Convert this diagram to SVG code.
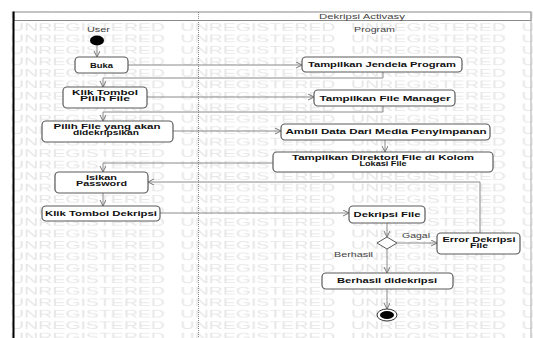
<svg xmlns="http://www.w3.org/2000/svg" width="533" height="338" viewBox="0 0 533 338">
<style>
.wm{font-family:"Liberation Sans",Arial,sans-serif;font-size:11px;fill:#e6e6e6}
.box{fill:#fff;stroke:#5a5a5a;stroke-width:1.2}
.t{font-family:"Liberation Sans",Arial,sans-serif;font-size:7px;font-weight:bold;fill:#111;text-anchor:middle}
.l{font-family:"Liberation Sans",Arial,sans-serif;font-size:7px;fill:#444;text-anchor:middle}
.c{fill:none;stroke:#8a8a8a;stroke-width:1}
</style>
<defs>
<marker id="ah" markerWidth="7" markerHeight="7" refX="6" refY="3" orient="auto" markerUnits="userSpaceOnUse">
<path d="M0,0 L6,3 L0,6" fill="none" stroke="#777" stroke-width="1"/>
</marker>
<pattern id="wmp" patternUnits="userSpaceOnUse" x="10" y="21.2" width="170.5" height="11.47">
<text class="wm" x="0" y="10" textLength="155" lengthAdjust="spacingAndGlyphs">UNREGISTERED</text>
</pattern>
</defs>
<rect width="533" height="338" fill="#fff"/>
<rect x="0" y="9.7" width="533" height="328.3" fill="url(#wmp)"/>
<g id="frame">
<rect x="14" y="12" width="517" height="8.5" fill="#fff" stroke="#8a8a8a" stroke-width="1"/>
<line x1="531" y1="12" x2="531" y2="338" stroke="#aaa" stroke-width="1"/>
<line x1="13.5" y1="11.5" x2="13.5" y2="338" stroke="#000" stroke-width="2"/>
<line x1="198.5" y1="12" x2="198.5" y2="338" stroke="#888" stroke-width="1" stroke-dasharray="1,1"/>
<text class="l" x="362" y="19" textLength="86" lengthAdjust="spacingAndGlyphs">Dekripsi Activasy</text>
<text class="l" x="98.5" y="32" textLength="23" lengthAdjust="spacingAndGlyphs">User</text>
<text class="l" x="374.5" y="32" textLength="41" lengthAdjust="spacingAndGlyphs">Program</text>
</g>
<g id="connectors">
<path class="c" d="M97,45.5 V57" marker-end="url(#ah)"/>
<path class="c" d="M128,65 H302" marker-end="url(#ah)"/>
<path class="c" d="M383,72 V78 H103 V87" marker-end="url(#ah)"/>
<path class="c" d="M147,97 H314" marker-end="url(#ah)"/>
<path class="c" d="M383,106 V112 H103 V121" marker-end="url(#ah)"/>
<path class="c" d="M173,131 H281" marker-end="url(#ah)"/>
<path class="c" d="M385,140 V152" marker-end="url(#ah)"/>
<path class="c" d="M273,163 H103 V172" marker-end="url(#ah)"/>
<path class="c" d="M103,193 V206" marker-end="url(#ah)"/>
<path class="c" d="M160,213 H349" marker-end="url(#ah)"/>
<path class="c" d="M387,223 V237" marker-end="url(#ah)"/>
<path class="c" d="M397,243 H437" marker-end="url(#ah)"/>
<path class="c" d="M480,233 V182 H148" marker-end="url(#ah)"/>
<path class="c" d="M387,249 V273" marker-end="url(#ah)"/>
<path class="c" d="M387,289 V309" marker-end="url(#ah)"/>
<text class="l" x="416" y="238" textLength="28" lengthAdjust="spacingAndGlyphs">Gagal</text>
<text class="l" x="353.5" y="257" textLength="39" lengthAdjust="spacingAndGlyphs">Berhasil</text>
</g>
<g id="start"><ellipse cx="97" cy="40.5" rx="7" ry="5" fill="#000"/></g>
<g id="buka"><rect class="box" x="75" y="57" width="53" height="16" rx="4"/>
<text class="t" x="101.5" y="67.5" textLength="23" lengthAdjust="spacingAndGlyphs">Buka</text></g>
<g id="klik-pilih"><rect class="box" x="63" y="87" width="84" height="21" rx="4"/>
<text class="t" x="105" y="94.5" textLength="66" lengthAdjust="spacingAndGlyphs">Klik Tombol</text>
<text class="t" x="105" y="100.5" textLength="50" lengthAdjust="spacingAndGlyphs">Pilih File</text></g>
<g id="pilih-file"><rect class="box" x="42" y="121" width="131" height="21" rx="4"/>
<text class="t" x="107" y="129" textLength="107" lengthAdjust="spacingAndGlyphs">Pilih File yang akan</text>
<text class="t" x="106" y="135" textLength="66" lengthAdjust="spacingAndGlyphs">didekripsikan</text></g>
<g id="isikan"><rect class="box" x="55" y="172" width="93" height="21" rx="4"/>
<text class="t" x="101.5" y="179.5" textLength="31" lengthAdjust="spacingAndGlyphs">Isikan</text>
<text class="t" x="101.5" y="185.5" textLength="51" lengthAdjust="spacingAndGlyphs">Password</text></g>
<g id="klik-dekripsi"><rect class="box" x="42" y="206" width="118" height="15" rx="4"/>
<text class="t" x="101" y="215.5" textLength="112" lengthAdjust="spacingAndGlyphs">Klik Tombol Dekripsi</text></g>
<g id="jendela"><rect class="box" x="302" y="57" width="160" height="15" rx="4"/>
<text class="t" x="382" y="66.5" textLength="148" lengthAdjust="spacingAndGlyphs">Tampilkan Jendela Program</text></g>
<g id="file-manager"><rect class="box" x="314" y="90" width="141" height="16" rx="4"/>
<text class="t" x="385" y="100.5" textLength="131" lengthAdjust="spacingAndGlyphs">Tampilkan File Manager</text></g>
<g id="ambil"><rect class="box" x="281" y="124" width="209" height="16" rx="4"/>
<text class="t" x="386" y="134" textLength="201" lengthAdjust="spacingAndGlyphs">Ambil Data Dari Media Penyimpanan</text></g>
<g id="direktori"><rect class="box" x="273" y="152" width="220" height="20" rx="4"/>
<text class="t" x="383" y="159.5" textLength="182" lengthAdjust="spacingAndGlyphs">Tampilkan Direktori File di Kolom</text>
<text class="t" x="383" y="165.5" textLength="47" lengthAdjust="spacingAndGlyphs">Lokasi File</text></g>
<g id="dekripsi-file"><rect class="box" x="349" y="206" width="76" height="17" rx="4"/>
<text class="t" x="387" y="216.5" textLength="67" lengthAdjust="spacingAndGlyphs">Dekripsi File</text></g>
<g id="decision"><path d="M377,243 L387,237 L397,243 L387,249 Z" fill="#fff" stroke="#5a5a5a" stroke-width="1"/></g>
<g id="error"><rect class="box" x="437" y="233" width="83" height="21" rx="4"/>
<text class="t" x="479" y="242" textLength="73" lengthAdjust="spacingAndGlyphs">Error Dekripsi</text>
<text class="t" x="479" y="248" textLength="18" lengthAdjust="spacingAndGlyphs">File</text></g>
<g id="berhasil"><rect class="box" x="322" y="273" width="131" height="16" rx="4"/>
<text class="t" x="387" y="283" textLength="100" lengthAdjust="spacingAndGlyphs">Berhasil didekripsi</text></g>
<g id="end"><ellipse cx="387" cy="315" rx="10" ry="6" fill="#fff" stroke="#333" stroke-width="1"/>
<ellipse cx="387" cy="315" rx="7" ry="4" fill="#000"/></g>
</svg>
